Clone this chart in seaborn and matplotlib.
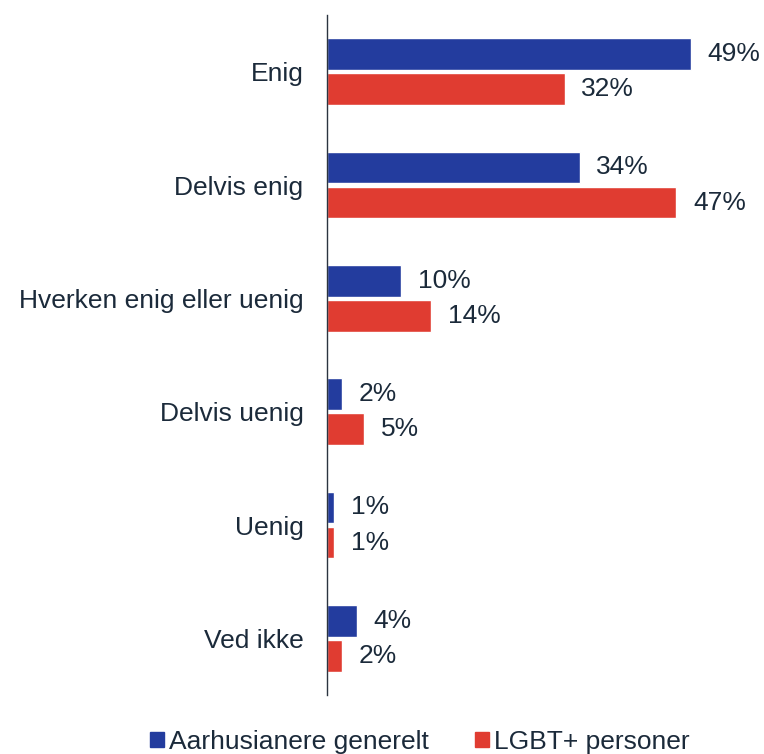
import matplotlib
matplotlib.use("Agg")
import matplotlib.pyplot as plt
import seaborn as sns
import pandas as pd

categories = ["Enig", "Delvis enig", "Hverken enig eller uenig", "Delvis uenig", "Uenig", "Ved ikke"]
series_names = ["Aarhusianere generelt", "LGBT+ personer"]
aarhus = [49, 34, 10, 2, 1, 4]
lgbt = [32, 47, 14, 5, 1, 2]
colors = ["#233C9E", "#E03C31"]
text_color = "#1B2A3A"

df = pd.DataFrame({
    "kategori": categories * 2,
    "gruppe": [series_names[0]] * len(categories) + [series_names[1]] * len(categories),
    "pct": aarhus + lgbt,
})

sns.set_theme(style="white")
plt.rcParams["font.family"] = ["Liberation Sans", "DejaVu Sans"]
plt.rcParams["text.color"] = text_color

FS = 19

fig = plt.figure(figsize=(7.64, 7.54), dpi=100)
ax = fig.add_axes([327 / 764, 1 - 695 / 754, 1 - 327 / 764, (695 - 15) / 754])

sns.barplot(data=df, y="kategori", x="pct", hue="gruppe", order=categories,
            hue_order=series_names, palette=colors, orient="h",
            width=0.62, gap=0.1, saturation=1, ax=ax, legend=False)

for cont in ax.containers:
    ax.bar_label(cont, labels=[f"{v:.0f}%" for v in cont.datavalues],
                 padding=12, fontsize=FS, color=text_color)

ax.set_xlim(0, (764 - 327) / 7.43)
ax.set_ylim(5.5, -0.5)
ax.set_xlabel("")
ax.set_ylabel("")
ax.set_xticks([])
ax.tick_params(axis="y", length=0, pad=17, labelsize=FS, labelcolor=text_color)
for s in ["top", "right", "bottom"]:
    ax.spines[s].set_visible(False)
ax.spines["left"].set_color("#2B3440")
ax.spines["left"].set_linewidth(1.0)

handles = [plt.Rectangle((0, 0), 1, 1, color=c) for c in colors]
fig.legend(handles, series_names, loc="center", bbox_to_anchor=(420 / 764, 0.016),
           ncol=2, frameon=False, fontsize=FS, handlelength=0.53, handleheight=0.53,
           handletextpad=0.2, columnspacing=1.75, labelcolor=text_color)

fig.savefig("out.png", dpi=100)
